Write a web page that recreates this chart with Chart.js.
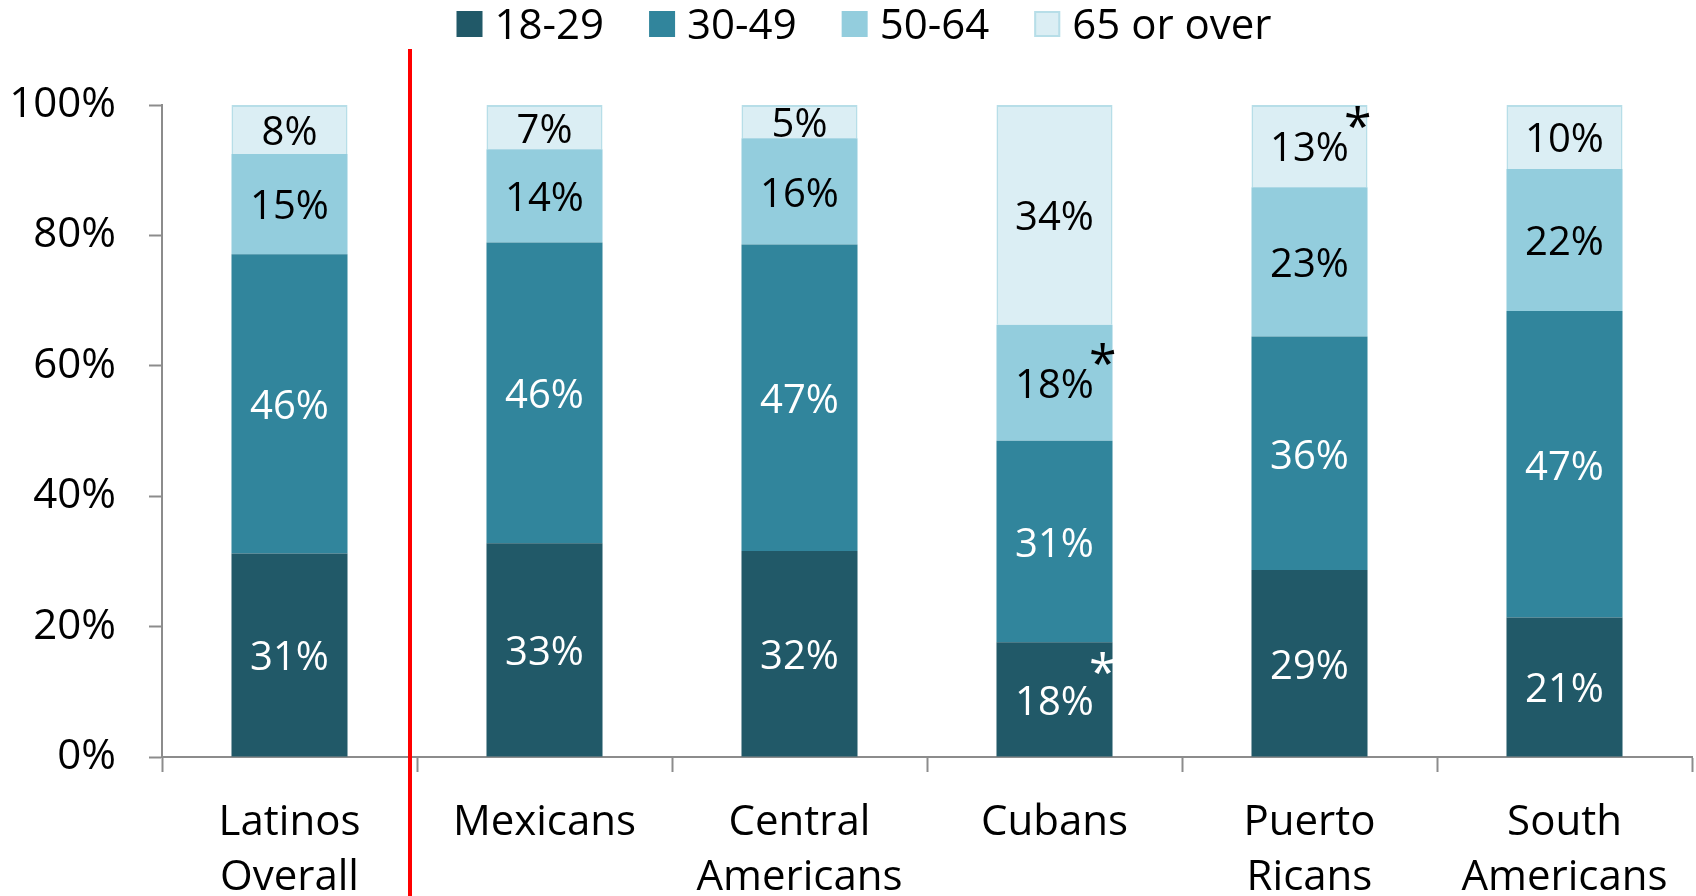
<!DOCTYPE html>
<html>
<head>
<meta charset="utf-8">
<script src="https://cdn.jsdelivr.net/npm/chart.js@4.4.1/dist/chart.umd.min.js"></script>
<style>
    html, body { margin: 0; padding: 0; background: #ffffff; }
    #wrap { width: 1696px; height: 896px; position: relative; }
</style>
</head>
<body>
<div id="wrap"><canvas id="myChart"></canvas></div>
<script>
// age groups by origin, share of adults (%)
const categories = [["Latinos", "Overall"], ["Mexicans"], ["Central", "Americans"], ["Cubans"], ["Puerto", "Ricans"], ["South", "Americans"]];
const ageGroups = ["18-29", "30-49", "50-64", "65 or over"];

const age18to29 = [31.2, 32.8, 31.6, 17.6, 28.7, 21.4];
const age30to49 = [45.9, 46.1, 47.0, 30.9, 35.8, 47.0];
const age50to64 = [15.4, 14.3, 16.3, 17.8, 22.9, 21.8];
const age65plus = [7.5, 6.8, 5.1, 33.7, 12.6, 9.8];

// significance marks shown next to some values
const star18to29 = [false, false, false, true, false, false];
const star30to49 = [false, false, false, false, false, false];
const star50to64 = [false, false, false, true, false, false];
const star65plus = [false, false, false, false, true, false];

const yTicks = [0, 20, 40, 60, 80, 100];

const FONT = "'Open Sans', 'Noto Sans', sans-serif";
const kolory = ["#215968", "#31859c", "#93cddd", "#dbeef4"];
const koloryTekstu = ["#ffffff", "#ffffff", "#000000", "#000000"];
const gwiazdki = [star18to29, star30to49, star50to64, star65plus];

// value labels in the middle of each segment
const etykiety = {
    id: "etykiety",
    afterDatasetsDraw(chart) {
        const ctx = chart.ctx;
        ctx.save();
        ctx.textBaseline = "middle";
        chart.data.datasets.forEach(function (ds, i) {
            const meta = chart.getDatasetMeta(i);
            meta.data.forEach(function (bar, j) {
                const txt = Math.round(ds.data[j]) + "%";
                const y = (bar.y + bar.base) / 2 + 4;
                ctx.font = "40px " + FONT;
                ctx.textAlign = "center";
                ctx.fillStyle = koloryTekstu[i];
                ctx.fillText(txt, bar.x, y);
                if (gwiazdki[i][j]) {
                    const w = ctx.measureText(txt).width;
                    ctx.font = "50px " + FONT;
                    ctx.textAlign = "left";
                    // white asterisk on the dark segment sits a bit higher
                    const dy = i == 0 ? 28 : 20;
                    ctx.fillText("*", bar.x + w / 2 - 5, y - dy);
                }
            });
        });
        ctx.restore();
    }
};

// legend row across the top
const legenda = {
    id: "legenda",
    afterDraw(chart) {
        const ctx = chart.ctx;
        ctx.save();
        ctx.font = "42px " + FONT;
        ctx.textBaseline = "middle";
        const box = 26, gap = 12, odstep = 45, y = 24;
        let total = 0;
        ageGroups.forEach(function (t, i) {
            total += box + gap + ctx.measureText(t).width + (i < ageGroups.length - 1 ? odstep : 0);
        });
        let x = 864 - total / 2;
        ageGroups.forEach(function (t, i) {
            ctx.fillStyle = kolory[i];
            ctx.fillRect(x, y - box / 2, box, box);
            if (i == 3) {
                ctx.strokeStyle = "#b7dee8";
                ctx.lineWidth = 2;
                ctx.strokeRect(x + 1, y - box / 2 + 1, box - 2, box - 2);
            }
            x += box + gap;
            ctx.fillStyle = "#000000";
            ctx.fillText(t, x, y + 3);
            x += ctx.measureText(t).width + odstep;
        });
        ctx.restore();
    }
};

// red divider between the overall bar and the groups
const linia = {
    id: "linia",
    afterDraw(chart) {
        const xs = chart.scales.x;
        const x = (xs.getPixelForValue(0) + xs.getPixelForValue(1)) / 2 - 7;
        const ctx = chart.ctx;
        ctx.save();
        ctx.strokeStyle = "#ff0000";
        ctx.lineWidth = 4;
        ctx.beginPath();
        ctx.moveTo(x, 49);
        ctx.lineTo(x, chart.height);
        ctx.stroke();
        ctx.restore();
    }
};

const serie = [age18to29, age30to49, age50to64, age65plus];
const dataset = serie.map(function (d, i) {
    return {
        label: ageGroups[i],
        data: d,
        backgroundColor: kolory[i],
        borderColor: i == 3 ? "#b7dee8" : kolory[i],
        borderWidth: i == 3 ? 2 : 0,
        categoryPercentage: 1.0,
        barPercentage: 0.455
    };
});

const CHART = document.getElementById("myChart");
let wykres = new Chart(CHART, {
    type: "bar",
    data: {
        labels: categories,
        datasets: dataset
    },
    options: {
        responsive: true,
        maintainAspectRatio: false,
        animation: false,
        layout: {
            padding: { top: 105, right: 4, left: 0, bottom: 0 }
        },
        plugins: {
            legend: { display: false },
            tooltip: { enabled: false }
        },
        scales: {
            x: {
                stacked: true,
                offset: true,
                afterFit: function (s) { s.height = 139; },
                grid: {
                    display: true,
                    offset: true,
                    drawOnChartArea: false,
                    drawTicks: true,
                    tickLength: 15,
                    tickWidth: 2,
                    color: "#8c8c8c"
                },
                border: { display: true, color: "#8c8c8c", width: 2 },
                ticks: {
                    color: "#000000",
                    padding: 24,
                    maxRotation: 0,
                    font: { size: 42, family: FONT, lineHeight: 1.3 }
                }
            },
            y: {
                stacked: true,
                min: 0,
                max: 100,
                afterFit: function (s) { s.width = 162; },
                afterBuildTicks: function (s) {
                    s.ticks = yTicks.map(function (v) { return { value: v }; });
                },
                grid: {
                    display: true,
                    drawOnChartArea: false,
                    drawTicks: true,
                    tickLength: 13,
                    tickWidth: 2,
                    color: "#8c8c8c"
                },
                border: { display: true, color: "#8c8c8c", width: 2 },
                ticks: {
                    color: "#000000",
                    padding: 33,
                    font: { size: 42, family: FONT },
                    callback: function (v) { return v + "%"; }
                }
            }
        }
    },
    plugins: [etykiety, legenda, linia]
});
</script>
</body>
</html>
